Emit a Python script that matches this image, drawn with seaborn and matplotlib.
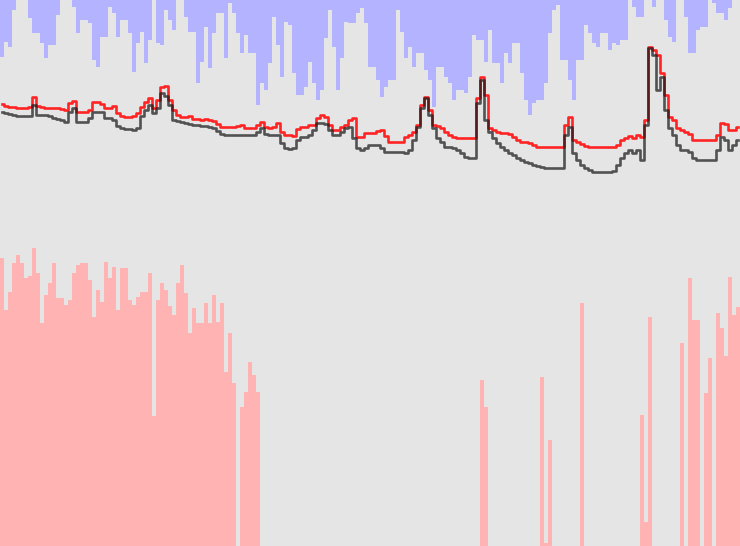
import numpy as np
import pandas as pd
import matplotlib
matplotlib.use("Agg")
import matplotlib.pyplot as plt
import seaborn as sns

# ---- data (one value per time step) ----
# precipitation depth (drawn hanging from the top, inverted axis)
rain = [57, 42, 47, 10, 0, 0, 0, 18, 33, 33, 43, 58, 45, 45, 15, 0, 0, 0, 7, 33,
        20, 20, 23, 60, 67, 37, 37, 7, 13, 37, 20, 20, 33, 72, 43, 32, 63, 40, 0, 43,
        45, 10, 20, 30, 0, 0, 17, 32, 32, 83, 62, 27, 68, 33, 13, 13, 58, 3, 13, 33,
        53, 35, 53, 53, 105, 83, 90, 63, 17, 45, 77, 22, 25, 73, 95, 95, 87, 62, 83, 100,
        90, 38, 10, 47, 90, 58, 22, 23, 23, 13, 8, 23, 67, 67, 80, 97, 87, 80, 80, 10,
        32, 58, 47, 67, 53, 53, 70, 80, 107, 67, 67, 77, 83, 100, 90, 90, 93, 77, 35, 40,
        40, 62, 30, 63, 63, 83, 53, 63, 43, 43, 73, 100, 115, 103, 100, 100, 83, 33, 10, 5,
        60, 60, 80, 100, 60, 60, 25, 33, 43, 47, 33, 33, 50, 43, 45, 40, 40, 0, 7, 17,
        17, 0, 0, 7, 0, 0, 20, 37, 42, 0, 0, 17, 53, 53, 30, 27, 27, 0, 3, 13,
        13, 20, 8, 0, 0]

# snow / melt amount (drawn rising from the bottom)
melt = [288, 236, 254, 283, 291, 283, 268, 270, 298, 273, 223, 251, 263, 283, 248, 248, 241, 246, 273, 281,
        283, 283, 266, 229, 256, 244, 284, 268, 279, 236, 278, 278, 246, 241, 249, 254, 254, 273, 130, 246,
        263, 256, 240, 231, 263, 281, 253, 213, 238, 223, 223, 243, 223, 251, 224, 243, 174, 213, 163, 0,
        139, 154, 184, 171, 154, 0, 0, 0, 0, 0, 0, 0, 0, 0, 0, 0, 0, 0, 0, 0,
        0, 0, 0, 0, 0, 0, 0, 0, 0, 0, 0, 0, 0, 0, 0, 0, 0, 0, 0, 0,
        0, 0, 0, 0, 0, 0, 0, 0, 0, 0, 0, 0, 0, 0, 0, 0, 0, 0, 0, 0,
        166, 139, 0, 0, 0, 0, 0, 0, 0, 0, 0, 0, 0, 0, 0, 169, 3, 106, 0, 0,
        0, 0, 0, 0, 0, 243, 0, 0, 0, 0, 0, 0, 0, 0, 0, 0, 0, 0, 0, 0,
        131, 24, 229, 0, 0, 0, 0, 0, 0, 0, 203, 0, 268, 226, 226, 0, 153, 188, 0, 233,
        218, 190, 269, 231, 239]

# simulated flow (red) and observed flow (black), depth below the top
sim = [104, 106, 107, 107, 108, 108, 108, 107, 97, 106, 107, 108, 108, 108, 108, 109, 110, 103, 101, 112,
       112, 112, 110, 102, 102, 104, 108, 108, 106, 113, 116, 117, 117, 116, 113, 107, 102, 98, 108, 100,
       87, 86, 100, 110, 115, 117, 117, 116, 119, 119, 120, 119, 120, 121, 124, 127, 127, 127, 127, 126,
       125, 128, 128, 128, 125, 122, 127, 128, 127, 123, 132, 135, 135, 136, 129, 127, 127, 125, 125, 118,
       115, 117, 125, 130, 130, 127, 125, 120, 118, 137, 137, 133, 133, 133, 131, 130, 136, 142, 142, 142,
       142, 137, 135, 132, 125, 105, 97, 110, 125, 126, 128, 132, 135, 137, 138, 138, 138, 138, 138, 98,
       77, 95, 128, 130, 132, 133, 133, 134, 137, 140, 142, 142, 143, 145, 147, 147, 147, 147, 147, 147,
       147, 125, 117, 140, 142, 144, 146, 147, 147, 147, 147, 147, 147, 147, 145, 140, 138, 136, 138, 135,
       137, 120, 47, 50, 55, 73, 95, 117, 120, 128, 130, 132, 134, 140, 140, 140, 140, 140, 140, 135,
       123, 124, 130, 130, 127]

obs = [112, 113, 114, 115, 116, 116, 116, 116, 105, 115, 115, 115, 116, 118, 119, 120, 122, 112, 108, 122,
       122, 122, 118, 112, 112, 112, 118, 118, 120, 126, 128, 129, 129, 130, 128, 116, 110, 105, 113, 108,
       93, 96, 105, 120, 121, 122, 123, 124, 125, 125, 126, 126, 127, 128, 131, 134, 135, 135, 135, 135,
       135, 135, 135, 135, 132, 128, 134, 135, 135, 135, 143, 148, 149, 148, 140, 137, 137, 135, 130, 123,
       123, 124, 130, 135, 135, 132, 128, 127, 138, 148, 150, 148, 145, 145, 145, 148, 152, 152, 152, 152,
       152, 153, 150, 140, 127, 108, 98, 115, 128, 138, 142, 147, 147, 148, 150, 153, 157, 158, 158, 103,
       80, 120, 132, 138, 143, 147, 150, 153, 155, 158, 160, 162, 163, 165, 166, 167, 168, 168, 168, 168,
       168, 135, 127, 153, 160, 165, 168, 170, 172, 172, 172, 172, 172, 171, 165, 158, 153, 150, 153, 150,
       160, 125, 48, 55, 90, 77, 110, 128, 135, 145, 150, 150, 152, 158, 160, 160, 160, 160, 160, 150,
       137, 140, 150, 145, 140]

steps = np.arange(len(rain))
df = pd.DataFrame({"step": steps, "rain": rain, "melt": melt, "sim": sim, "obs": obs})

# ---- figure ----
fig = plt.figure(figsize=(7.4, 5.46), dpi=100)
ax_m = fig.add_axes([0, 0, 1, 1])
ax_m.set_facecolor("#e5e5e5")
ax_r = ax_m.twinx()
ax_q = ax_m.twinx()

sns.barplot(data=df, x="step", y="melt", color="#ffb3b3", saturation=1, width=1,
            linewidth=0, ax=ax_m)
sns.barplot(data=df, x="step", y="rain", color="#b3b3ff", saturation=1, width=1,
            linewidth=0, ax=ax_r)
sns.lineplot(data=df, x="step", y="sim", color="#ff2424", linewidth=1.9,
             drawstyle="steps-mid", ax=ax_q)
sns.lineplot(data=df, x="step", y="obs", color="#1a1a1a", linewidth=1.9, alpha=0.72,
             drawstyle="steps-mid", ax=ax_q)

n = len(rain)
for a in (ax_m, ax_r, ax_q):
    a.set_xlim(-0.5, n - 0.5)
    a.set_axis_off()
ax_m.set_ylim(0, 546)
ax_r.set_ylim(546, 0)
ax_q.set_ylim(546, 0)
ax_m.axis("on")
for s in ax_m.spines.values():
    s.set_visible(False)
ax_m.set_xticks([])
ax_m.set_yticks([])
ax_m.set_xlabel("")
ax_m.set_ylabel("")

fig.savefig("out.png", dpi=100, facecolor="#e5e5e5")
